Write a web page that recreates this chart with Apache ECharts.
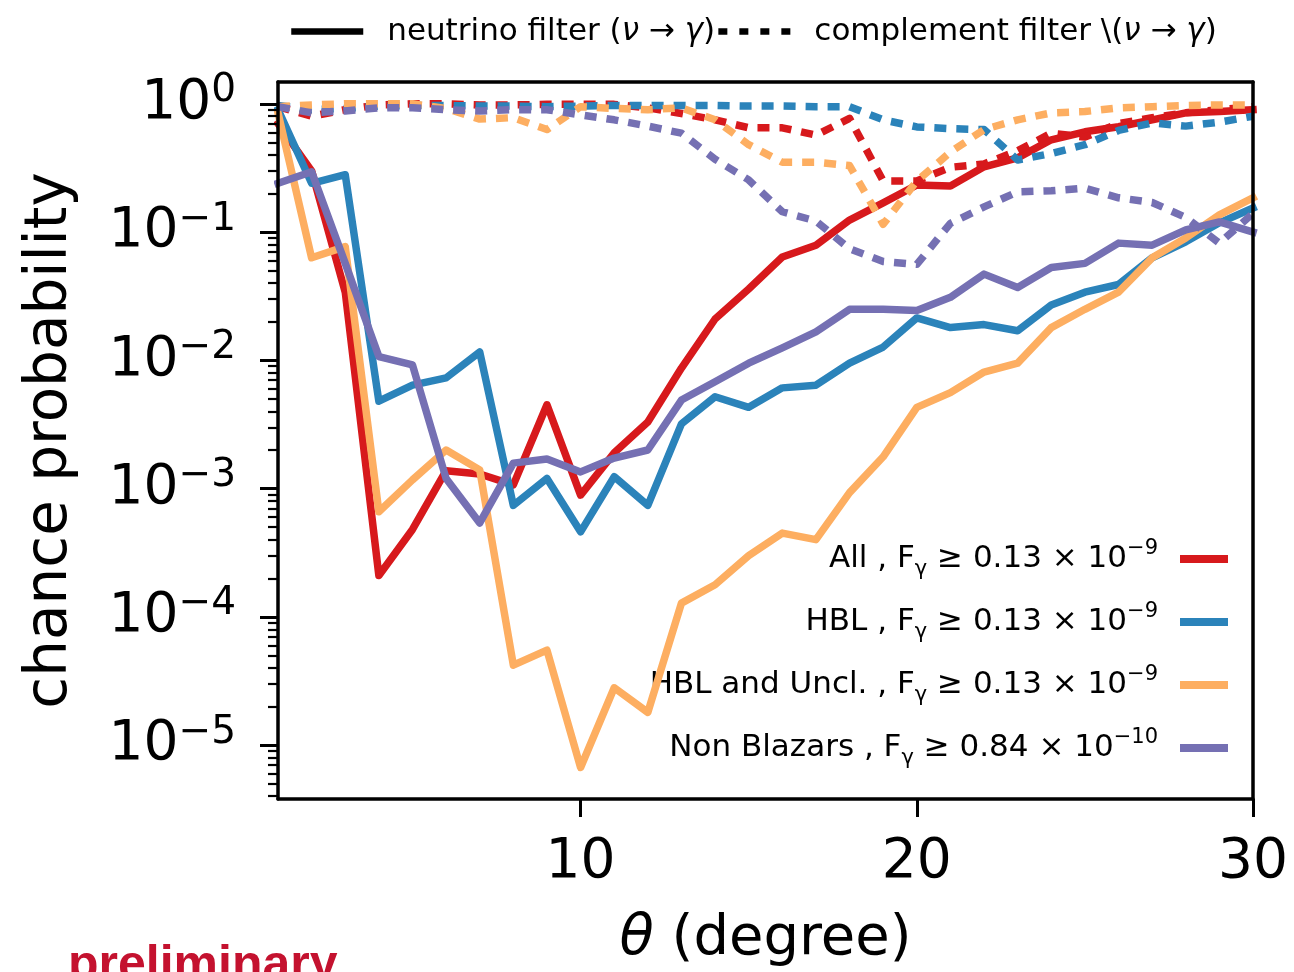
<!DOCTYPE html>
<html><head><meta charset="utf-8">
<script src="https://cdn.jsdelivr.net/npm/echarts@6/dist/echarts.min.js"></script>
<style>html,body{margin:0;padding:0;background:#fff}#c{width:1294px;height:972px}</style>
</head><body><div id="c"></div>
<script>
// ---------------- data ----------------
const theta = [1,2,3,4,5,6,7,8,9,10,11,12,13,14,15,16,17,18,19,20,21,22,23,24,25,26,27,28,29,30];

// neutrino filter (solid)
const allNu = [0.7,0.3,0.034,2.1e-4,4.8e-4,1.38e-3,1.3e-3,1.07e-3,4.5e-3,8.9e-4,1.9e-3,3.3e-3,8.7e-3,0.021,0.036,0.064,0.079,0.124,0.169,0.233,0.229,0.323,0.379,0.524,0.605,0.662,0.75,0.85,0.87,0.9];
const hblNu = [0.9,0.24,0.28,4.8e-3,6.4e-3,7.3e-3,0.0116,7.4e-4,1.2e-3,4.6e-4,1.24e-3,7.4e-4,3.2e-3,5.2e-3,4.3e-3,6.1e-3,6.4e-3,9.5e-3,0.0127,0.0214,0.018,0.019,0.017,0.027,0.034,0.039,0.063,0.084,0.118,0.154];
const uncNu = [0.85,0.063,0.077,6.6e-4,1.17e-3,2.0e-3,1.4e-3,4.2e-5,5.5e-5,6.7e-6,2.8e-5,1.8e-5,1.28e-4,1.78e-4,3.0e-4,4.5e-4,4.0e-4,9.3e-4,1.77e-3,4.3e-3,5.6e-3,8.1e-3,9.5e-3,0.018,0.025,0.034,0.063,0.09,0.136,0.185];
const nbNu = [0.24,0.295,0.057,0.0107,9.2e-3,1.2e-3,5.4e-4,1.58e-3,1.7e-3,1.35e-3,1.73e-3,2.0e-3,4.9e-3,6.8e-3,9.5e-3,0.0125,0.0167,0.025,0.025,0.0245,0.031,0.047,0.037,0.053,0.057,0.082,0.079,0.104,0.12,0.1];

// complement filter (dotted)
const allComp = [0.95,0.8,0.9,0.98,1.0,1.0,0.98,0.98,0.99,0.99,0.99,0.93,0.84,0.75,0.65,0.65,0.57,0.77,0.25,0.25,0.32,0.34,0.43,0.59,0.55,0.7,0.78,0.85,0.9,0.95];
const hblComp = [0.97,0.9,0.92,0.96,0.97,0.97,0.96,0.96,0.95,0.96,0.97,0.97,0.97,0.97,0.96,0.96,0.95,0.95,0.75,0.66,0.64,0.63,0.365,0.41,0.48,0.62,0.71,0.67,0.72,0.8];
const uncComp = [0.95,0.98,1.0,1.0,1.0,0.92,0.76,0.78,0.63,0.95,0.92,0.9,0.93,0.75,0.48,0.35,0.35,0.33,0.115,0.25,0.42,0.63,0.75,0.85,0.87,0.93,0.95,0.97,0.98,0.98];
const nbComp = [0.95,0.85,0.88,0.93,0.93,0.9,0.88,0.9,0.9,0.82,0.75,0.67,0.59,0.37,0.255,0.144,0.122,0.074,0.059,0.056,0.117,0.157,0.206,0.21,0.22,0.185,0.17,0.13,0.082,0.14];

const groupNames = ['All', 'HBL', 'HBL and Uncl.', 'Non Blazars'];
const groupFlux = ['0.13', '0.13', '0.13', '0.84'];
const groupExp = ['\u22129', '\u22129', '\u22129', '\u221210'];
const filterNames = ['neutrino filter', 'complement filter'];

const xTicks = [10, 20, 30];
const yTickExps = [-5, -4, -3, -2, -1, 0];
const Y_MIN_EXP = -5.42, Y_MAX_EXP = 0.17;
const X_MIN = 1, X_MAX = 30;

// ---------------- styles ----------------
const colors = ['#d7191c', '#2b83ba', '#fdae61', '#7570b3'];
const FONT = 'DejaVu Sans';
const LW = 7.5;

const nuSets = [allNu, hblNu, uncNu, nbNu];
const compSets = [allComp, hblComp, uncComp, nbComp];

const minorExps = [];
for (let n = -6; n <= 0; n++) {
  for (let k = 2; k <= 9; k++) {
    const v = n + Math.log10(k);
    if (v > Y_MIN_EXP && v < Y_MAX_EXP) minorExps.push(v);
  }
}

const series = [];
let zc = 2;
groupNames.forEach((g, i) => {
  series.push({
    name: g, type: 'line', symbol: 'none', z: zc++, silent: true, animation: false,
    data: theta.map((t, j) => [t, nuSets[i][j]]),
    lineStyle: { color: colors[i], width: LW, cap: 'square', join: 'round' },
    itemStyle: { color: colors[i] }
  });
  series.push({
    name: g + ' comp', type: 'line', symbol: 'none', z: zc++, silent: true, animation: false,
    data: theta.map((t, j) => [t, compSets[i][j]]),
    lineStyle: { color: colors[i], width: LW, type: [12, 10], cap: 'butt', join: 'round' },
    itemStyle: { color: colors[i] }
  });
});
// legend-only series for the filter styles
series.push({ name: filterNames[0], type: 'line', symbol: 'none', data: [], lineStyle: { color: '#000', width: 6 }, itemStyle: { color: '#000' } });
series.push({ name: filterNames[1], type: 'line', symbol: 'none', data: [], lineStyle: { color: '#000', width: 7, type: [9, 12], cap: 'butt' }, itemStyle: { color: '#000' } });

const supRich = {
  n: { fontSize: 31, fontFamily: FONT, color: '#000', lineHeight: 42 },
  sub: { fontSize: 21, fontFamily: FONT, color: '#000', lineHeight: 20, verticalAlign: 'bottom' },
  sup: { fontSize: 21, fontFamily: FONT, color: '#000', lineHeight: 22, verticalAlign: 'top' }
};

const option = {
  backgroundColor: '#fff',
  animation: false,
  grid: { left: 278, top: 82, width: 975, height: 717, show: false, containLabel: false },
  legend: [
    {
      data: filterNames, left: 288, top: 16, orient: 'horizontal', padding: 0,
      itemWidth: 72, itemHeight: 14, itemGap: 0, selectedMode: false,
      itemStyle: { opacity: 0 },
      lineStyle: { width: 6.5 },
      textStyle: { fontSize: 31, fontFamily: FONT, color: '#000', padding: [0, 0, 0, 19],
        rich: { i: { fontSize: 31, fontFamily: FONT, fontStyle: 'italic', color: '#000' } } },
      formatter: name => name === filterNames[0]
        ? 'neutrino filter ({i|\u03bd} \u2192 {i|\u03b3})'
        : 'complement filter \\({i|\u03bd} \u2192 {i|\u03b3})'
    },
    {
      data: groupNames, right: 66, top: 538, orient: 'vertical', align: 'right', padding: 0,
      itemWidth: 40, itemHeight: 14, itemGap: 21, selectedMode: false,
      itemStyle: { opacity: 0 },
      lineStyle: { width: 8 },
      textStyle: { fontSize: 31, fontFamily: FONT, color: '#000', padding: [0, 21, 0, 0], rich: supRich },
      formatter: name => {
        const i = groupNames.indexOf(name);
        return '{n|' + name + ' , F}{sub|\u03b3}{n| \u2265 ' + groupFlux[i] + ' \u00d7 10}{sup|' + groupExp[i] + '}';
      }
    }
  ],
  xAxis: [
    {
      type: 'value', min: X_MIN, max: X_MAX, position: 'bottom', z: 20,
      name: '{i|\u03b8} (degree)', nameLocation: 'middle', nameGap: 112,
      nameTextStyle: { fontSize: 56, fontFamily: FONT, color: '#000',
        rich: { i: { fontSize: 56, fontFamily: FONT, fontStyle: 'italic', color: '#000' } } },
      axisLine: { show: true, onZero: false, lineStyle: { color: '#000', width: 3.5 } },
      axisTick: { show: true, customValues: xTicks, length: 18, lineStyle: { color: '#000', width: 3 } },
      axisLabel: { customValues: xTicks, fontSize: 55, fontFamily: FONT, color: '#000', margin: 36 },
      splitLine: { show: false }
    },
    {
      type: 'value', min: X_MIN, max: X_MAX, position: 'top', z: 20,
      axisLine: { show: true, onZero: false, lineStyle: { color: '#000', width: 3.5 } },
      axisTick: { show: false }, axisLabel: { show: false }, splitLine: { show: false }
    }
  ],
  yAxis: [
    {
      type: 'log', logBase: 10, min: Math.pow(10, Y_MIN_EXP), max: Math.pow(10, Y_MAX_EXP), position: 'left',
      axisLine: { show: false }, axisTick: { show: false }, axisLabel: { show: false }, splitLine: { show: false }
    },
    {
      type: 'value', min: Y_MIN_EXP, max: Y_MAX_EXP, position: 'left', z: 20,
      name: 'chance probability', nameLocation: 'middle', nameGap: 198, nameRotate: 90,
      nameTextStyle: { fontSize: 58, fontFamily: FONT, color: '#000' },
      axisLine: { show: true, onZero: false, lineStyle: { color: '#000', width: 3.5 } },
      axisTick: { show: true, customValues: yTickExps, length: 18, lineStyle: { color: '#000', width: 3 } },
      axisLabel: {
        customValues: yTickExps, margin: 42, color: '#000',
        formatter: v => '{b|10}{s|' + (Math.round(v) === 0 ? '0' : '\u2212' + Math.abs(Math.round(v))) + '}',
        rich: {
          b: { fontSize: 55, fontFamily: FONT, color: '#000', lineHeight: 64 },
          s: { fontSize: 39, fontFamily: FONT, color: '#000', lineHeight: 32, verticalAlign: 'top' }
        }
      },
      splitLine: { show: false }
    },
    {
      type: 'value', min: Y_MIN_EXP, max: Y_MAX_EXP, position: 'left', z: 20,
      axisLine: { show: false },
      axisTick: { show: true, customValues: minorExps, length: 10, lineStyle: { color: '#000', width: 2.2 } },
      axisLabel: { show: false }, splitLine: { show: false }
    },
    {
      type: 'value', min: Y_MIN_EXP, max: Y_MAX_EXP, position: 'right', z: 20,
      axisLine: { show: true, onZero: false, lineStyle: { color: '#000', width: 3.5 } },
      axisTick: { show: false }, axisLabel: { show: false }, splitLine: { show: false }
    }
  ],
  graphic: [
    { type: 'text', left: 68, top: 941, silent: true,
      style: { text: 'preliminary', fontSize: 50, fontWeight: 'bold', fontFamily: 'Liberation Sans', fill: '#c4122f' } }
  ],
  series: series
};

const chart = echarts.init(document.getElementById('c'));
chart.setOption(option);
</script>
</body></html>
